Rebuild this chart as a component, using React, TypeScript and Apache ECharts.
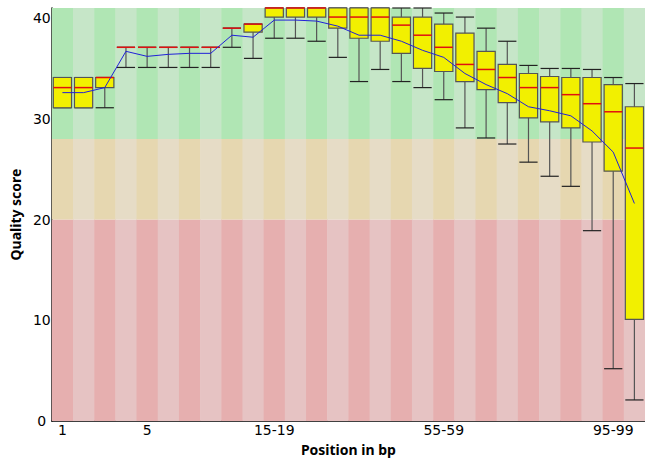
import React, { useEffect, useRef } from "react";
import * as echarts from "echarts";

const categories = [
  "1", "2", "3", "4", "5", "6", "7", "8", "9",
  "10-14", "15-19", "20-24", "25-29", "30-34", "35-39", "40-44", "45-49",
  "50-54", "55-59", "60-64", "65-69", "70-74", "75-79", "80-84", "85-89",
  "90-94", "95-99", "100",
];
const xTickLabels = ["1", "5", "15-19", "55-59", "95-99"];

const lows = [31.1, 31.1, 31.1, 35.1, 35.1, 35.1, 35.1, 35.1, 37.1, 36.0, 38.0, 38.0, 37.7, 36.1, 33.7, 34.9, 33.7, 33.1, 31.9, 29.1, 28.1, 27.5, 25.7, 24.3, 23.3, 18.9, 5.2, 2.1];
const q1s = [31.1, 31.1, 33.1, 37.1, 37.1, 37.1, 37.1, 37.1, 39.0, 38.6, 40.1, 40.1, 40.1, 39.0, 38.0, 37.7, 36.5, 35.0, 34.7, 33.7, 32.9, 31.6, 30.1, 29.7, 29.1, 27.7, 24.8, 10.1];
const medians = [33.1, 33.1, 34.1, 37.1, 37.1, 37.1, 37.1, 37.1, 39.0, 39.4, 41, 41, 41, 40.1, 40.1, 40.1, 39.3, 38.3, 37.1, 35.4, 34.9, 34.1, 33.1, 33.1, 32.4, 31.5, 30.7, 27.1];
const q3s = [34.1, 34.1, 34.1, 37.1, 37.1, 37.1, 37.1, 37.1, 39.0, 39.4, 41, 41, 41, 41, 41, 41, 40.1, 40.1, 39.4, 38.5, 36.7, 35.4, 34.5, 34.2, 34.1, 34.1, 33.4, 31.2];
const highs = [34.1, 34.1, 34.1, 37.1, 37.1, 37.1, 37.1, 37.1, 39.0, 39.4, 41, 41, 41, 41, 41, 41, 41, 41, 40.5, 40.1, 39.0, 37.7, 35.3, 35.0, 35.0, 34.9, 34.1, 33.5];
const means = [32.6, 32.6, 33.1, 36.7, 36.2, 36.4, 36.5, 36.5, 38.3, 38.1, 39.8, 39.8, 39.7, 39.2, 38.3, 38.3, 37.7, 36.8, 36.1, 34.5, 33.4, 32.5, 31.2, 30.8, 30.3, 28.8, 26.7, 21.6];

const yMax = 41;
const bandBreaks = [0, 20, 28, 41];
const bandColorsEven = ["#e6afaf", "#e6d7b0", "#b0e6b4"];
const bandColorsOdd = ["#e6c3c3", "#e6dcc6", "#c6e6c8"];

export default function App() {
  const ref = useRef<HTMLDivElement>(null);
  useEffect(() => {
    document.body.style.margin = "0";
    const chart = echarts.init(ref.current!, null, { renderer: "svg" });
    const font = "DejaVu Sans";
    const titleFont = "Noto Sans";
    const boxData = categories.map((_, i) => [i, lows[i], q1s[i], medians[i], q3s[i], highs[i]]);
    chart.setOption({
      animation: false,
      grid: { left: 48, right: 0, top: 8, bottom: 37 },
      xAxis: {
        type: "category",
        data: categories,
        boundaryGap: true,
        name: "Position in bp",
        nameLocation: "middle",
        nameGap: 17,
        nameTextStyle: { fontFamily: titleFont, fontSize: 14, fontWeight: "bold", color: "#000" },
        axisLine: { lineStyle: { color: "#000", width: 1.5 } },
        axisTick: { show: false },
        axisLabel: {
          interval: (_idx: number, value: string) => xTickLabels.includes(value),
          fontFamily: font,
          fontSize: 14,
          color: "#000",
          margin: 2,
        },
        splitLine: { show: false },
      },
      yAxis: {
        type: "value",
        min: 0,
        max: yMax,
        interval: 10,
        name: "Quality score",
        nameLocation: "middle",
        nameGap: 22,
        nameTextStyle: { fontFamily: titleFont, fontSize: 14, fontWeight: "bold", color: "#000" },
        axisLine: { show: true, lineStyle: { color: "#000", width: 1.5 } },
        axisTick: { show: false },
        axisLabel: { fontFamily: font, fontSize: 14, color: "#000", margin: 10, align: "center" },
        splitLine: { show: false },
      },
      series: [
        {
          type: "custom",
          z: 1,
          silent: true,
          data: categories.map((_, i) => [i]),
          renderItem: (params: any, api: any) => {
            const i = api.value(0);
            const w = api.size([1, 0])[0];
            const cx = api.coord([i, 0])[0];
            const colors = i % 2 === 0 ? bandColorsEven : bandColorsOdd;
            const children = [];
            for (let b = 0; b < bandBreaks.length - 1; b++) {
              const yTop = api.coord([i, bandBreaks[b + 1]])[1];
              const yBot = api.coord([i, bandBreaks[b]])[1];
              children.push({
                type: "rect",
                shape: { x: cx - w / 2, y: yTop, width: w + 0.5, height: yBot - yTop },
                style: { fill: colors[b] },
              });
            }
            return { type: "group", children };
          },
        },
        {
          type: "custom",
          z: 2,
          silent: true,
          data: boxData,
          renderItem: (params: any, api: any) => {
            const i = api.value(0);
            const w = api.size([1, 0])[0] * 0.86;
            const pLow = api.coord([i, api.value(1)]);
            const pQ1 = api.coord([i, api.value(2)]);
            const pMed = api.coord([i, api.value(3)]);
            const pQ3 = api.coord([i, api.value(4)]);
            const pHigh = api.coord([i, api.value(5)]);
            const cx = pLow[0];
            const children: any[] = [
              {
                type: "line",
                shape: { x1: cx, y1: pLow[1], x2: cx, y2: pHigh[1] },
                style: { stroke: "#555", lineWidth: 1.2 },
              },
              {
                type: "line",
                shape: { x1: cx - w / 2, y1: pLow[1], x2: cx + w / 2, y2: pLow[1] },
                style: { stroke: "#222", lineWidth: 1.2 },
              },
              {
                type: "line",
                shape: { x1: cx - w / 2, y1: pHigh[1], x2: cx + w / 2, y2: pHigh[1] },
                style: { stroke: "#222", lineWidth: 1.2 },
              },
            ];
            if (pQ1[1] - pQ3[1] > 0.5) {
              children.push({
                type: "rect",
                shape: { x: cx - w / 2, y: pQ3[1], width: w, height: pQ1[1] - pQ3[1] },
                style: { fill: "#f2f000", stroke: "#555", lineWidth: 1.2 },
              });
            }
            children.push({
              type: "line",
              shape: { x1: cx - w / 2, y1: pMed[1], x2: cx + w / 2, y2: pMed[1] },
              style: { stroke: "#e01010", lineWidth: 1.5 },
            });
            return { type: "group", children };
          },
        },
        {
          type: "line",
          z: 3,
          data: means,
          symbol: "none",
          lineStyle: { color: "#2020d8", width: 1 },
          silent: true,
        },
      ],
    });
    return () => chart.dispose();
  }, []);
  return <div ref={ref} style={{ width: 645, height: 461 }} />;
}
